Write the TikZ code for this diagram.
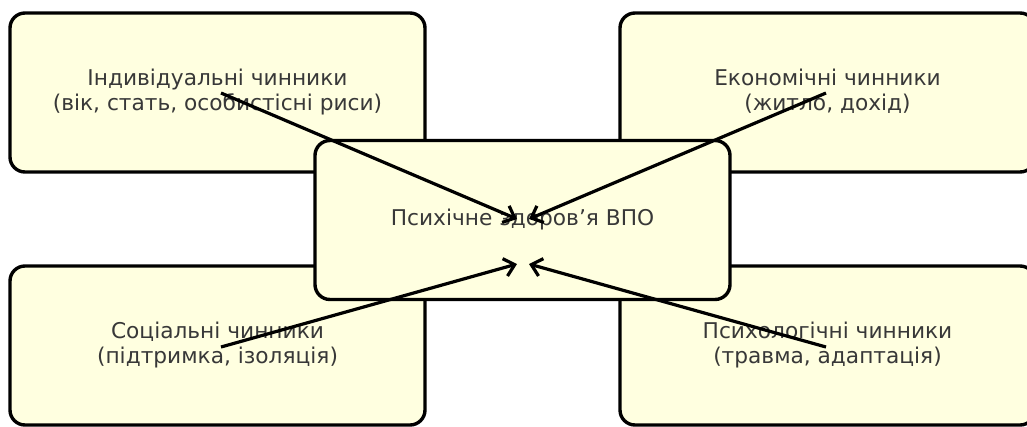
\documentclass[tikz,border=0pt]{standalone}
\usepackage{fontspec}
\setmainfont{DejaVu Sans}
\usetikzlibrary{arrows.meta}
\definecolor{boxfill}{HTML}{FFFFE0}
\definecolor{labeltext}{HTML}{383838}
% centred label block, nudged slightly down
\newcommand{\factortext}[1]{\raisebox{-2pt}{\begin{tabular}{@{}c@{}}#1\end{tabular}}}
\tikzset{
  factor/.style={draw=black, line width=3.4pt, fill=boxfill, rounded corners=15pt,
    minimum width=415pt, minimum height=159pt, inner sep=0pt,
    text=labeltext, font=\fontsize{21.7}{25}\selectfont},
  link/.style={draw=black, line width=3.2pt, -{Straight Barb[length=10pt,width=18pt,line width=3.2pt]}}
}
\begin{document}
\begin{tikzpicture}[x=1pt, y=-1pt]
\useasboundingbox (0,0) rectangle (1027,426);
\begin{scope}
\clip (0,0) rectangle (1027,426);
% outer factor boxes
\node[factor] (ind) at (217.5,92.5) {\factortext{Індивідуальні чинники\\(вік, стать, особистісні риси)}};
\node[factor] (eco) at (827.5,92.5) {\factortext{Економічні чинники\\(житло, дохід)}};
\node[factor] (soc) at (217.5,345.5) {\factortext{Соціальні чинники\\(підтримка, ізоляція)}};
\node[factor] (psy) at (827.5,345.5) {\factortext{Психологічні чинники\\(травма, адаптація)}};
% central outcome box
\node[factor] (core) at (522.5,220) {\factortext{Психічне здоров’я ВПО}};
% arrow anchors
\coordinate (indS) at (221,93);
\coordinate (ecoS) at (826,93);
\coordinate (socS) at (221,347);
\coordinate (psyS) at (826,347);
\coordinate (tTL) at (517,219);
\coordinate (tTR) at (529,219);
\coordinate (tBL) at (517,264);
\coordinate (tBR) at (529,264);
\draw[link] (indS) -- (tTL);
\draw[link] (ecoS) -- (tTR);
\draw[link] (socS) -- (tBL);
\draw[link] (psyS) -- (tBR);
\end{scope}
\end{tikzpicture}
\end{document}
